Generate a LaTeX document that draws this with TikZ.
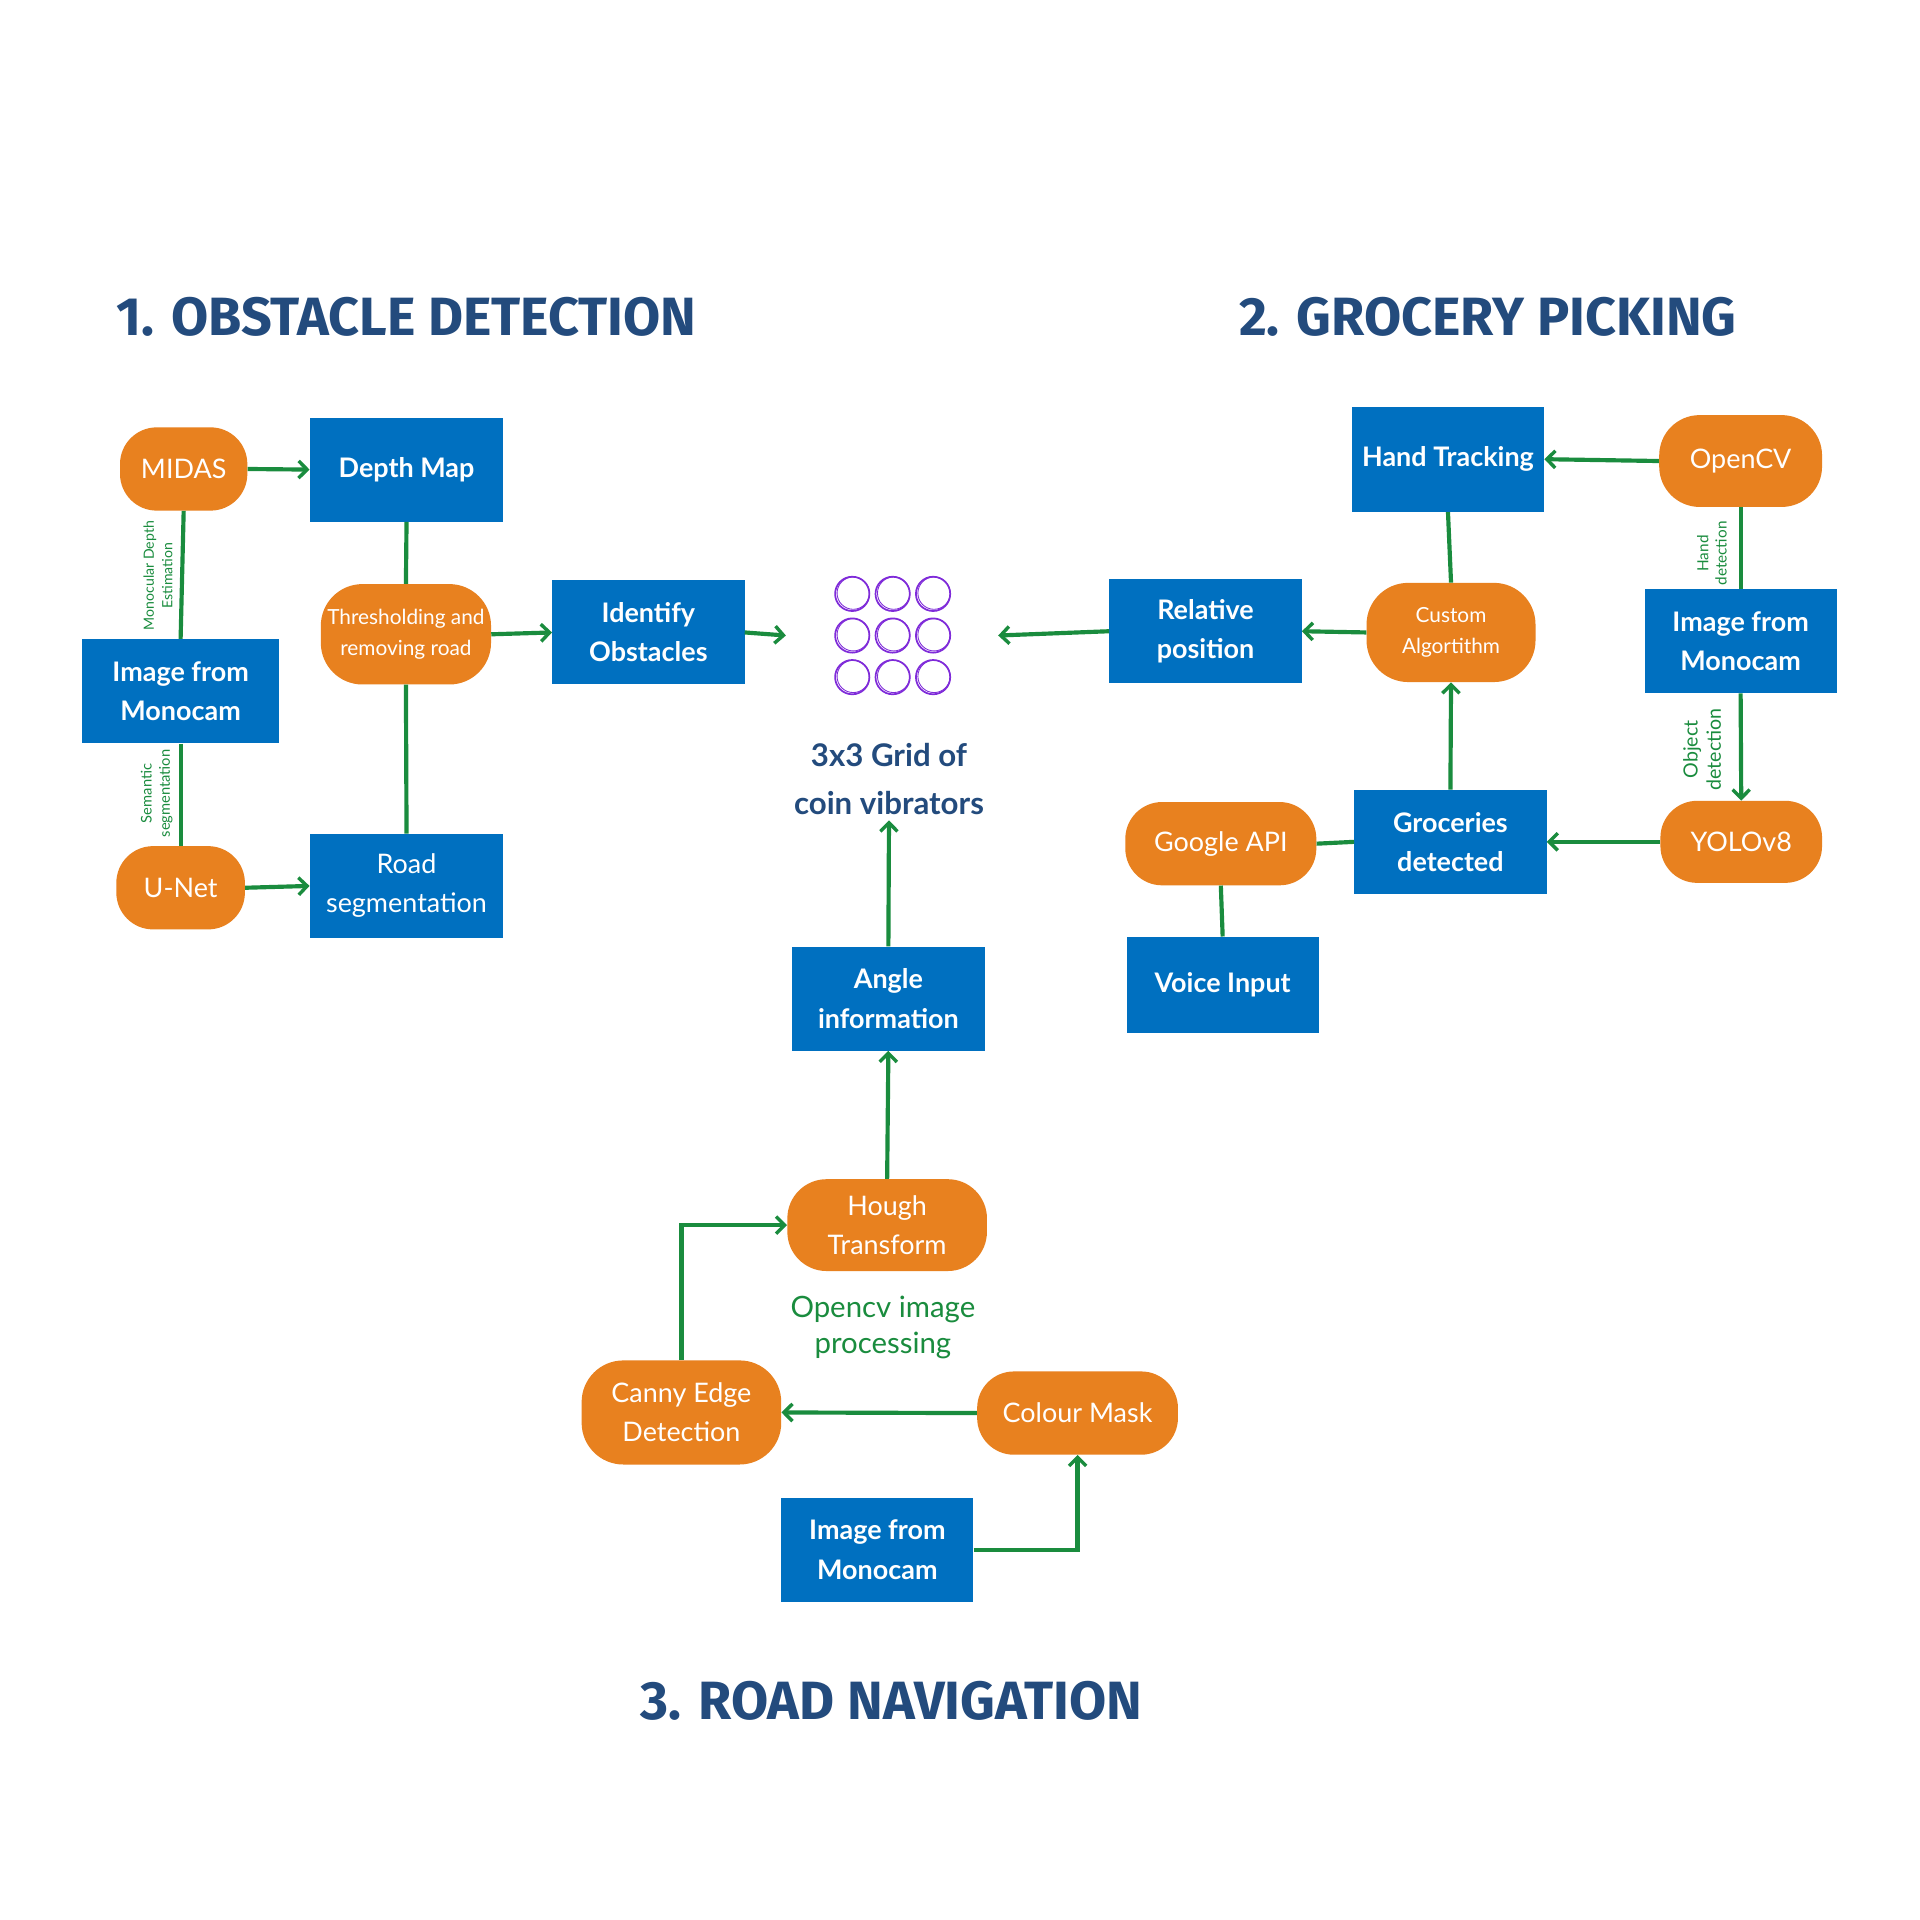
\documentclass[tikz,border=0pt]{standalone}
\usepackage{fontspec}
\setmainfont{Lato}
\newfontfamily\titlefont{Fira Sans}
\usetikzlibrary{arrows.meta}
\definecolor{bxblue}{HTML}{0070C0}
\definecolor{orng}{HTML}{E8811F}
\definecolor{grn}{HTML}{1A8C3E}
\definecolor{ttl}{HTML}{234B7D}
\definecolor{purp}{HTML}{7F2BD9}
\tikzset{
  bbox/.style={fill=bxblue, text=white, align=center, inner sep=0pt, font=\fontsize{22}{32}\selectfont\bfseries},
  obox/.style={fill=orng, text=white, align=center, inner sep=0pt, font=\fontsize{22}{32}\selectfont},
  osmall/.style={obox, font=\fontsize{17}{25}\selectfont},
  conn/.style={draw=grn, line width=3.4pt},
  arr/.style={conn, -{Straight Barb[length=7pt,width=14pt,line width=2.8pt]}},
  glbl/.style={text=grn, align=center, inner sep=0pt},
  title/.style={text=ttl, font=\fontsize{44}{50}\selectfont\titlefont\bfseries, inner sep=0pt},
  coin/.style={draw=purp, line width=1.4pt}
}
\begin{document}
\begin{tikzpicture}[x=1pt,y=-1pt]
\fill[white] (0,0) rectangle (1568,1568);
\useasboundingbox (0,0) rectangle (1568,1568);

% titles
\node[title] (t1) at (332,259) {1. OBSTACLE DETECTION};
\node[title] (t2) at (1215,259) {2. GROCERY PICKING};
\node[title] (t3) at (728,1389) {3. ROAD NAVIGATION};

% blue boxes
\node[bbox, minimum width=158, minimum height=85] (dm) at (332,383.5) {Depth Map};
\node[bbox, minimum width=161, minimum height=85] (imL) at (147.5,564.5) {Image from\\Monocam};
\node[bbox, minimum width=158, minimum height=85, font=\fontsize{22}{32}\selectfont] (rs) at (332,723.5) {Road\\segmentation};
\node[bbox, minimum width=157, minimum height=85] (io) at (529.5,516.5) {Identify\\Obstacles};
\node[bbox, minimum width=157, minimum height=86] (ht) at (1182.5,375) {Hand Tracking};
\node[bbox, minimum width=157, minimum height=85] (rp) at (984.5,515.5) {Relative\\position};
\node[bbox, minimum width=157, minimum height=85] (imR) at (1421.5,523.5) {Image from\\Monocam};
\node[bbox, minimum width=157, minimum height=85] (gd) at (1184.5,687.5) {Groceries\\detected};
\node[bbox, minimum width=157, minimum height=79] (vi) at (998.5,804.5) {Voice Input};
\node[bbox, minimum width=157, minimum height=85] (ai) at (725.5,815.5) {Angle\\information};
\node[bbox, minimum width=157, minimum height=85] (imB) at (716.5,1265.5) {Image from\\Monocam};

% orange nodes
\node[obox, minimum width=104, minimum height=68, rounded corners=30pt] (midas) at (150,383) {MIDAS};
\node[obox, minimum width=105, minimum height=68, rounded corners=30pt] (unet) at (147.5,725) {U-Net};
\node[osmall, minimum width=139, minimum height=82, rounded corners=34pt] (thr) at (331.5,518) {Thresholding and\\removing road};
\node[obox, minimum width=133, minimum height=75, rounded corners=33pt] (ocv) at (1421.5,376.5) {OpenCV};
\node[osmall, minimum width=138, minimum height=81, rounded corners=34pt] (ca) at (1185,516.5) {Custom\\Algortithm};
\node[obox, minimum width=132, minimum height=67, rounded corners=30pt] (yolo) at (1422,687.5) {YOLOv8};
\node[obox, minimum width=156, minimum height=68, rounded corners=30pt] (gapi) at (997,689) {Google API};
\node[obox, minimum width=163, minimum height=75, rounded corners=32pt] (hough) at (724.5,1000.5) {Hough\\Transform};
\node[obox, minimum width=163, minimum height=85, rounded corners=34pt] (canny) at (556.5,1153.5) {Canny Edge\\Detection};
\node[obox, minimum width=164, minimum height=68, rounded corners=30pt] (cm) at (880,1154) {Colour Mask};

% coin grid
\node[minimum width=173, minimum height=100, inner sep=0pt] (grid) at (728.5,519) {};
\foreach \cx in {696,729,762} {
  \foreach \cy in {485,519,553} {
    \draw[coin] (\cx,\cy) circle (14);
    \draw[coin, line width=0.7pt] (\cx+0.8,\cy-0.6) circle (13.2);
  }
}
\node[text=ttl, align=center, inner sep=0pt, font=\fontsize{25.5}{39}\selectfont\bfseries] (glabel) at (726,636) {3x3 Grid of\\coin vibrators};
\coordinate (gin) at (726,670);

% connectors obstacle detection
\draw[arr] (midas.east) -- (dm.west);
\draw[conn] (midas.south) -- (imL.north);
\draw[conn] (imL.south) -- (unet.north);
\draw[arr] (unet.east) -- (rs.west);
\draw[conn] (dm.south) -- (thr.north);
\draw[conn] (thr.south) -- (rs.north);
\draw[arr] (thr.east) -- (io.west);
\draw[arr] (io.east) -- (grid.west);

% grocery picking
\draw[arr] (rp.west) -- (grid.east);
\draw[arr] (ca.west) -- (rp.east);
\draw[conn] (ht.south) -- (ca.north);
\draw[arr] (ocv.west) -- (ht.east);
\draw[conn] (ocv.south) -- (imR.north);
\draw[arr] (imR.south) -- (yolo.north);
\draw[arr] (yolo.west) -- (gd.east);
\draw[arr] (gd.north) -- (ca.south);
\draw[conn] (gapi.east) -- (gd.west);
\draw[conn] (gapi.south) -- (vi.north);

% road navigation
\draw[arr] (ai.north) -- (gin);
\draw[arr] (hough.north) -- (ai.south);
\draw[arr] (canny.north) |- (hough.west);
\draw[arr] (cm.west) -- (canny.east);
\draw[arr] (imB.east) -| (cm.south);

% labels
\node[glbl, rotate=90, font=\fontsize{11.5}{15}\selectfont] (lmde) at (129,470) {Monocular Depth\\Estimation};
\node[glbl, rotate=90, font=\fontsize{12}{15}\selectfont] (lsem) at (128,648) {Semantic\\segmentation};
\node[glbl, rotate=90, font=\fontsize{12.5}{15}\selectfont] (lhand) at (1398,452) {Hand\\detection};
\node[glbl, rotate=90, font=\fontsize{16}{19}\selectfont] (lobj) at (1390,612) {Object\\detection};
\node[glbl, font=\fontsize{24}{29}\selectfont] (locv) at (721,1084) {Opencv image\\processing};
\end{tikzpicture}
\end{document}
